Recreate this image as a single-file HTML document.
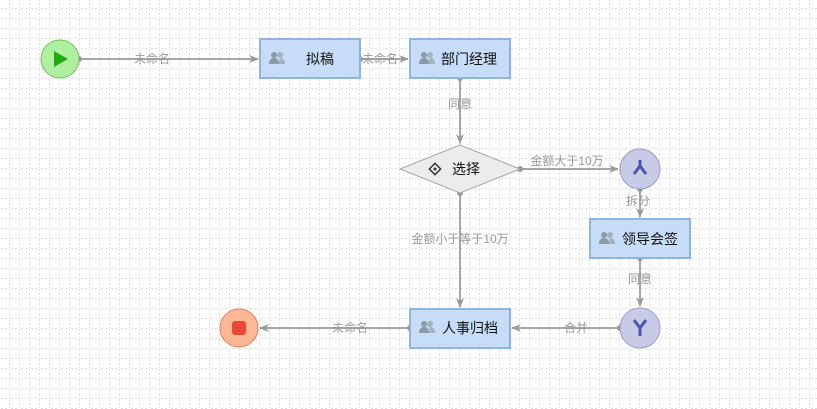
<!DOCTYPE html>
<html><head><meta charset="utf-8"><style>
html,body{margin:0;padding:0;background:#fff;}
svg{display:block;font-family:"Liberation Sans","Noto Sans CJK SC",sans-serif;}
</style></head><body>
<svg width="817" height="409" viewBox="0 0 817 409" xmlns="http://www.w3.org/2000/svg">
<defs>
<pattern id="g" x="9" y="8" width="10" height="10" patternUnits="userSpaceOnUse">
<rect x="0" y="1" width="1" height="2" fill="#dcdcdc"/><rect x="0" y="5" width="1" height="2" fill="#dcdcdc"/><rect x="0" y="9" width="1" height="1" fill="#dcdcdc"/>
<rect x="2" y="0" width="2" height="1" fill="#dcdcdc"/><rect x="6" y="0" width="2" height="1" fill="#dcdcdc"/>
</pattern>
<marker id="a" markerWidth="10" markerHeight="10" refX="9" refY="5" orient="auto" markerUnits="userSpaceOnUse"><path d="M0,1 L10,5 L0,9 L3,5 Z" fill="#999"/></marker>
<g id="u"><circle cx="-3" cy="-4" r="3" fill="#8a9aa8"/><path d="M-8,5 Q-8,-1 -3,-1 Q2,-1 2,5 Z" fill="#8a9aa8"/><circle cx="3" cy="-4" r="3" fill="#a5b3bf"/><path d="M2,5 Q2,0 3,-1 Q8,-1 8,5 Z" fill="#a5b3bf"/></g>
</defs>
<rect width="817" height="409" fill="url(#g)"/>
<g stroke="#a6a6a6" stroke-width="2" fill="none">
<line x1="79" y1="59" x2="258" y2="59" marker-end="url(#a)"/>
<line x1="360" y1="59" x2="408" y2="59" marker-end="url(#a)"/>
<line x1="460" y1="78" x2="460" y2="143" marker-end="url(#a)"/>
<line x1="520" y1="169" x2="618" y2="169" marker-end="url(#a)"/>
<line x1="640" y1="189" x2="640" y2="217" marker-end="url(#a)"/>
<line x1="460" y1="193" x2="460" y2="307" marker-end="url(#a)"/>
<line x1="640" y1="258" x2="640" y2="306" marker-end="url(#a)"/>
<line x1="620" y1="328" x2="512" y2="328" marker-end="url(#a)"/>
<line x1="410" y1="328" x2="260" y2="328" marker-end="url(#a)"/>
</g>
<g fill="#999">
<circle cx="79" cy="59" r="3"/><circle cx="360" cy="59" r="3"/><circle cx="460" cy="78" r="3"/>
<circle cx="520" cy="169" r="3"/><circle cx="460" cy="193" r="3"/><circle cx="640" cy="189" r="3"/>
<circle cx="640" cy="258" r="3"/><circle cx="620" cy="328" r="3"/><circle cx="410" cy="328" r="3"/>
</g>
<g font-size="12" fill="#999" text-anchor="middle">
<text x="152" y="63">未命名</text><text x="380" y="63">未命名</text><text x="460" y="108">同意</text>
<text x="567" y="165">金额大于10万</text><text x="638" y="205">拆分</text>
<text x="460" y="243">金额小于等于10万</text><text x="640" y="283">同意</text>
<text x="576" y="332">合并</text><text x="350" y="332">未命名</text>
</g>
<circle cx="60" cy="59" r="19" fill="#aef0a0" stroke="#6cc160"/>
<path d="M54,51 L68,59 L54,67 Z" fill="#22aa11"/>
<circle cx="239" cy="328" r="19" fill="#ffb896" stroke="#e0805a"/>
<rect x="232" y="321" width="14" height="14" rx="3" fill="#e8473a"/>
<g stroke="#8fb4e4" stroke-width="2" fill="#c7dcf7">
<rect x="260" y="39" width="100" height="39"/><rect x="410" y="39" width="100" height="39"/>
<rect x="590" y="219" width="100" height="39"/><rect x="410" y="309" width="100" height="39"/>
</g>
<use href="#u" x="277" y="59"/><use href="#u" x="427" y="59"/><use href="#u" x="607" y="239"/><use href="#u" x="427" y="328"/>
<g font-size="14" fill="#111">
<text x="306" y="64">拟稿</text><text x="441" y="64">部门经理</text>
<text x="622" y="244">领导会签</text><text x="442" y="333">人事归档</text>
</g>
<polygon points="400,169 460,145 520,169 460,193" fill="#ececec" stroke="#a6a6a6"/>
<text x="452" y="174" font-size="14" fill="#111">选择</text>
<g transform="translate(435,169) rotate(45)"><rect x="-4" y="-4" width="8" height="8" fill="none" stroke="#333" stroke-width="1.5"/><circle cx="0" cy="0" r="1.5" fill="#333"/></g>
<circle cx="640" cy="169" r="20" fill="#c8cbe6" stroke="#9a9ec9"/>
<path d="M640,160 L640,166 M640,166 L634,174 M640,166 L646,174" stroke="#4a55b0" stroke-width="3" fill="none"/>
<circle cx="640" cy="328" r="20" fill="#c8cbe6" stroke="#9a9ec9"/>
<path d="M634,320 L640,328 L646,320 M640,328 L640,336" stroke="#4a55b0" stroke-width="3" fill="none"/>
</svg>
</body></html>
